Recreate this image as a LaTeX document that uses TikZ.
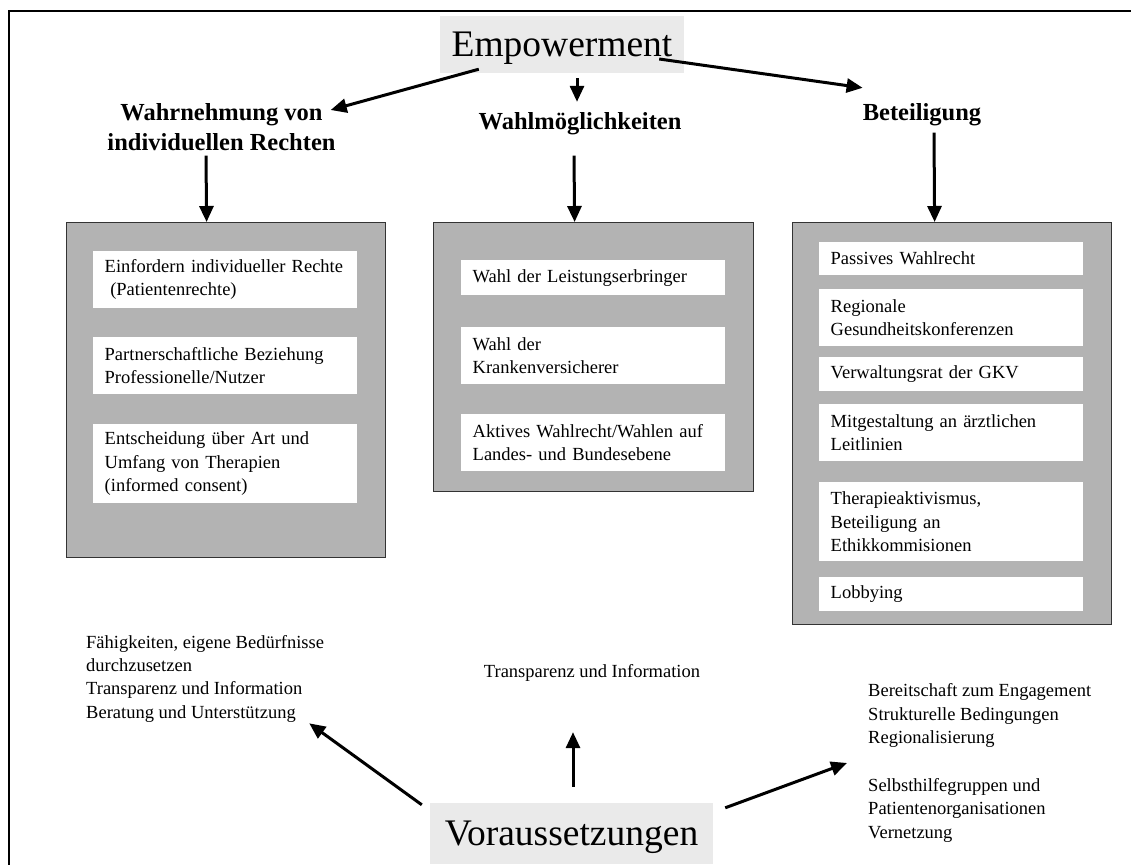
\documentclass[tikz,border=0pt]{standalone}
\usepackage{fontspec}
\setmainfont{Liberation Serif}
\usepackage{xcolor}
\usepackage{tikz}
\usetikzlibrary{arrows.meta, positioning, calc}

\definecolor{panelgray}{HTML}{B3B3B3}
\definecolor{titlegray}{HTML}{EAEAEA}

\begin{document}
\begin{tikzpicture}[
        x=1pt, y=-1pt,
        title/.style={rectangle, fill=titlegray, inner sep=0pt, text depth=0pt, font=\fontsize{37.5}{44}\selectfont},
        head/.style={inner sep=0pt, align=center, font=\fontsize{24.5}{30}\selectfont\bfseries},
        panel/.style={rectangle, draw=black!80, line width=1.2pt, fill=panelgray, anchor=north west, minimum width=319pt, inner sep=0pt},
        item/.style={rectangle, fill=white, anchor=north west, minimum width=264pt, inner xsep=11.5pt, inner ysep=0pt, text width=241pt, align=left, font=\fontsize{18.5}{23.3}\selectfont},
        note/.style={inner sep=0pt, align=left, font=\fontsize{18.5}{23.3}\selectfont},
        arrow/.style={-{Triangle[length=16pt, width=14pt]}, line width=3pt},
        frame/.style={line width=2pt}
    ]
        \useasboundingbox (0,0) rectangle (1131,865);

        % page frame
        \draw[frame] (1131,11) -- (9,11) -- (9,865);

        % --- Top: Empowerment and the three areas ---
        \node[title, minimum width=244pt, minimum height=57pt] (emp) at (562,44.5) {Empowerment};

        \node[head, anchor=north] (wahr) at (221.5,103) {Wahrnehmung von\\individuellen Rechten};
        \node[head, anchor=base] (wahl) at (580,129) {Wahlmöglichkeiten};
        \node[head, anchor=base] (bet) at (922,120) {Beteiligung};

        % --- Middle: grey panels ---
        \node[panel, minimum height=335pt] (pnlL) at (66,222) {};
        \node[panel, minimum height=269pt, minimum width=320pt] (pnlM) at (433,222) {};
        \node[panel, minimum height=402pt] (pnlR) at (792,222) {};

        % left panel items
        \node[item, minimum height=57pt] (l1) at (93,251) {Einfordern individueller Rechte\\\hspace*{0.3em}(Patientenrechte)};
        \node[item, minimum height=57pt] (l2) at (93,337) {Partnerschaftliche Beziehung\\Professionelle/Nutzer};
        \node[item, minimum height=79pt] (l3) at (93,424) {Entscheidung über Art und\\Umfang von Therapien\\(informed consent)};

        % middle panel items
        \node[item, minimum height=35pt] (m1) at (461,260) {Wahl der Leistungserbringer};
        \node[item, minimum height=57pt] (m2) at (461,327) {Wahl der\\Krankenversicherer};
        \node[item, minimum height=57pt] (m3) at (461,414) {Aktives Wahlrecht/Wahlen auf\\Landes- und Bundesebene};

        % right panel items
        \node[item, minimum height=33pt] (r1) at (819,242) {Passives Wahlrecht};
        \node[item, minimum height=57pt] (r2) at (819,289) {Regionale\\Gesundheitskonferenzen};
        \node[item, minimum height=34pt] (r3) at (819,357) {Verwaltungsrat der GKV};
        \node[item, minimum height=57pt] (r4) at (819,404) {Mitgestaltung an ärztlichen\\Leitlinien};
        \node[item, minimum height=79pt] (r5) at (819,482) {Therapieaktivismus,\\Beteiligung an\\Ethikkommisionen};
        \node[item, minimum height=34pt] (r6) at (819,577) {Lobbying};

        % --- Bottom: Voraussetzungen ---
        \node[title, minimum width=283pt, minimum height=61pt] (vor) at (571.5,833.5) {Voraussetzungen};
        \node[note, anchor=north west] (needL) at (86,635) {Fähigkeiten, eigene Bedürfnisse\\durchzusetzen\\Transparenz und Information\\Beratung und Unterstützung};
        \node[note, anchor=base] (needM) at (592,677) {Transparenz und Information};
        \node[note, anchor=north west] (needR) at (868,683.5) {Bereitschaft zum Engagement\\Strukturelle Bedingungen\\Regionalisierung\\[25pt]Selbsthilfegruppen und\\Patientenorganisationen\\Vernetzung};

        % --- Connections ---
        \draw[arrow] ($(emp.south west)+(39,-4)$) -- ($(wahr.north east)+(-5,7)$);
        \draw[arrow] ($(emp.south)+(15,5)$) -- ($(wahl.north)+(-3,-10)$);
        \draw[arrow] ($(emp.east)+(-25,14.5)$) -- ($(bet.north west)+(0,-15)$);

        \draw[arrow] ($(wahr.south)+(-15.5,5)$) -- ($(pnlL.north)+(-19.5,0)$);
        \draw[arrow] ($(wahl.south)+(-6,21)$) -- ($(pnlM.north)+(-19,0)$);
        \draw[arrow] ($(bet.south)+(12,7)$) -- ($(pnlR.north)+(-17.5,0)$);

        \draw[arrow] ($(vor.north west)+(-8,2)$) -- ($(needL.south east)+(-15,1)$);
        \draw[arrow] ($(vor.north)+(1.5,-16)$) -- ($(vor.north |- needM.south)+(1.5,51)$);
        \draw[arrow] ($(vor.north east)+(12,5)$) -- ($(needR.west)+(-21,0)$);

    \end{tikzpicture}
\end{document}
